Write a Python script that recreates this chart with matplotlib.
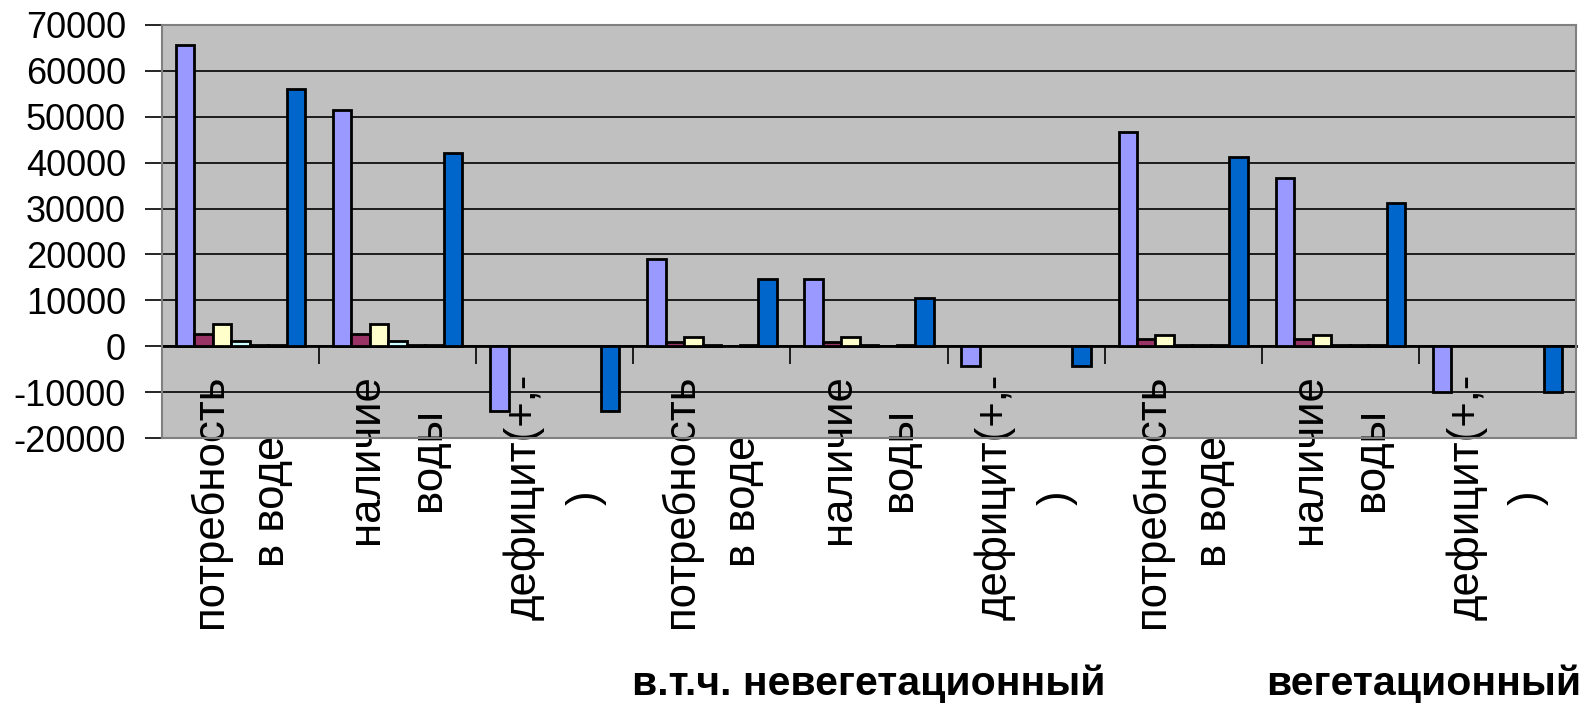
import numpy as np
import matplotlib.pyplot as plt

plt.rcParams['font.family'] = ['Liberation Sans', 'DejaVu Sans']
plt.rcParams['axes.unicode_minus'] = False

# categories (two-line labels, as in the original sheet)
labels = ["потребность\nв воде", "наличие\nводы", "дефицит(+,-\n)"] * 3
group_labels = ["", "в.т.ч. невегетационный", "вегетационный"]

nan = np.nan
# seven series, values
s1 = [65700, 51500, -14200, 19000, 14700, -4300, 46600, 36700, -9900]
s2 = [2700, 2700, nan, 1000, 1000, nan, 1600, 1600, nan]
s3 = [4800, 4800, nan, 2100, 2100, nan, 2500, 2500, nan]
s4 = [1150, 1150, nan, 300, 300, nan, 300, 300, nan]
s5 = [300, 300, nan, nan, nan, nan, 300, 300, nan]
s6 = [300, 300, nan, 300, 300, nan, 300, 300, nan]
s7 = [56100, 42000, -14200, 14700, 10500, -4300, 41300, 31300, -9900]
series = [s1, s2, s3, s4, s5, s6, s7]
colors = ["#9999FF", "#993366", "#FFFFCC", "#CCFFFF", "#660066", "#FF8080", "#0066CC"]

fig = plt.figure(figsize=(15.91, 7.05), dpi=100)
ax = fig.add_axes([162/1591, 1 - 438/705, 1414/1591, 413/705])
ax.set_facecolor("#C0C0C0")

x = np.arange(len(labels))
w = 1 / 8.5
for k, (vals, c) in enumerate(zip(series, colors)):
    ax.bar(x + (k - 3) * w, vals, w, color=c, edgecolor="black", linewidth=2, zorder=3)

ax.set_xlim(-0.5, len(labels) - 0.5)
ax.set_ylim(-20000, 70000)
ax.set_yticks(np.arange(-20000, 70001, 10000))
ax.yaxis.grid(True, color="black", linewidth=1.2, zorder=1)
ax.set_axisbelow(True)
ax.tick_params(axis="y", direction="out", length=12, width=1.2, pad=14, labelsize=26)

ax.set_xticks(x)
ax.set_xticklabels(labels, rotation=90, va="top", ha="center", multialignment="center",
                   fontsize=31.5, linespacing=1.65)
ax.tick_params(axis="x", length=0, pad=-46)

for s in ax.spines.values():
    s.set_color("#808080")
    s.set_linewidth(1.5)

# category axis at zero with boundary ticks
sec = ax.secondary_xaxis(2 / 9)
sec.set_xticks(np.arange(-0.5, len(labels), 1.0))
sec.set_xticklabels([])
sec.tick_params(direction="out", length=13, width=1.2, color="black")
sec.spines["bottom"].set_color("black")
sec.spines["bottom"].set_linewidth(2)

# second level labels
fig.text(869/1591, 1 - 695/705, group_labels[1], ha="center", va="baseline",
         fontsize=29.5, fontweight="bold")
fig.text(1581/1591, 1 - 695/705, group_labels[2], ha="right", va="baseline",
         fontsize=29.5, fontweight="bold")

fig.savefig("out.png", dpi=100)
